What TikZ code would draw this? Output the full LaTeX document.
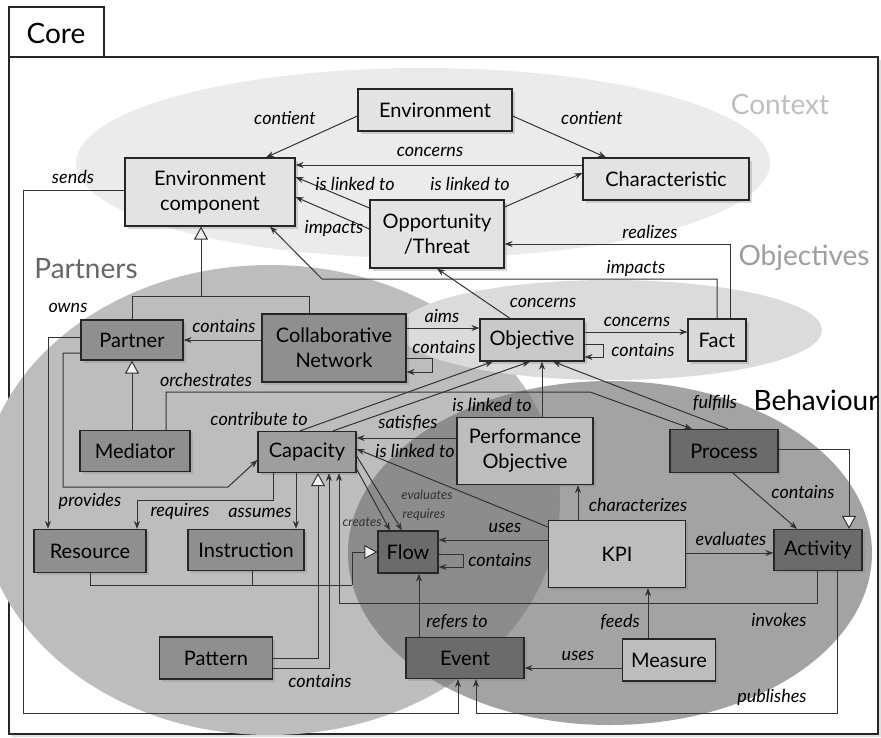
\documentclass[tikz,border=0pt]{standalone}
\usepackage{fontspec}
\setmainfont{Lato}
\usetikzlibrary{arrows.meta}
\usetikzlibrary{shadows}
\usetikzlibrary{calc}

\begin{document}
\begin{tikzpicture}[x=1pt, y=-1pt,
        box/.style={draw=black!85, line width=1.2pt, align=center, inner sep=2pt,
            font=\fontsize{20}{25}\selectfont, drop shadow={opacity=.3}},
        pale/.style={box, fill=black!11},
        soft/.style={box, fill=black!26},
        mid/.style={box, fill=black!44},
        deep/.style={box, fill=black!58},
        lbl/.style={font=\itshape\fontsize{18}{20}\selectfont, inner sep=0pt},
        tinylbl/.style={font=\itshape\fontsize{13}{14}\selectfont, inner sep=0pt, text=black!80},
        zone/.style={font=\fontsize{28}{30}\selectfont, inner sep=0pt},
        arr/.style={draw=black!80, line width=1pt, -{Stealth[length=8pt,width=6pt]}},
        gen/.style={draw=black!80, line width=1pt, -{Triangle[length=13pt,width=14pt,fill=black!6]}},
        ln/.style={draw=black!80, line width=1pt}]

            \useasboundingbox (0,0) rectangle (881,737);

            \draw[fill=white, line width=1.4pt, draw=black!85, drop shadow={opacity=.25}] (9,57) rectangle (878,734);
            \draw[fill=white, line width=1.4pt, draw=black!85] (9,7) rectangle (104,57);
            \node[zone] (core) at (56,33) {Core};

            \fill[black!8] (423,163) ellipse [x radius=347pt, y radius=95pt];
            \fill[black!26] (270,500) ellipse [x radius=290pt, y radius=235pt];
            \fill[black!14] (610,330) ellipse [x radius=212pt, y radius=50pt];
            \fill[black!36] (610,553) ellipse [x radius=262pt, y radius=172pt];
            \begin{scope}
                \clip (270,500) ellipse [x radius=290pt, y radius=235pt];
                \fill[black!45] (610,553) ellipse [x radius=262pt, y radius=172pt];
            \end{scope}

            \node[zone, text=black!25] (context) at (780,104) {Context};
            \node[zone, text=black!38] (objectives) at (804,258) {Objectives};
            \node[zone, text=black!60] (partners) at (86,269) {Partners};
            \node[zone, text=black] (behaviour) at (816,400) {Behaviour};

            \node[pale, minimum width=154pt, minimum height=42pt] (env) at (435,110) {Environment};
            \node[pale, minimum width=170pt, minimum height=68pt] (envc) at (210,192) {Environment\\component};
            \node[pale, minimum width=166pt, minimum height=42pt] (char) at (666,179) {Characteristic};
            \node[pale, minimum width=134pt, minimum height=68pt] (opp) at (437,234) {Opportunity\\/Threat};
            \node[box, fill=black!21, minimum width=104pt, minimum height=42pt] (obj) at (532,340) {Objective};
            \node[box, fill=black!15, minimum width=58pt, minimum height=42pt] (fact) at (717,340) {Fact};
            \node[mid, minimum width=102pt, minimum height=40pt] (partner) at (132,340) {Partner};
            \node[mid, minimum width=144pt, minimum height=68pt] (cnet) at (334,348) {Collaborative\\Network};
            \node[mid, minimum width=110pt, minimum height=41pt] (mediator) at (135,451) {Mediator};
            \node[box, fill=black!38, minimum width=98pt, minimum height=41pt] (capacity) at (307,452) {Capacity};
            \node[soft, minimum width=136pt, minimum height=67pt] (perfobj) at (525,451) {Performance\\Objective};
            \node[deep, minimum width=108pt, minimum height=43pt] (process) at (724,451) {Process};
            \node[mid, minimum width=112pt, minimum height=43pt] (resource) at (90,551) {Resource};
            \node[mid, minimum width=116pt, minimum height=41pt] (instruction) at (246,550) {Instruction};
            \node[deep, minimum width=60pt, minimum height=42pt] (flow) at (408,552) {Flow};
            \node[soft, minimum width=137pt, minimum height=67pt] (kpi) at (617,554) {KPI};
            \node[deep, minimum width=88pt, minimum height=41pt] (activity) at (818,550) {Activity};
            \node[mid, minimum width=113pt, minimum height=42pt] (pattern) at (216,658) {Pattern};
            \node[deep, minimum width=118pt, minimum height=41pt] (event) at (465,658) {Event};
            \node[soft, minimum width=93pt, minimum height=42pt] (measure) at (669,660) {Measure};

            \coordinate (genenv) at (201,296);
            \coordinate (genflow) at (352,585);

            \draw[arr] ([yshift=-6pt]env.west) -- (envc.north -| 266,0);
            \draw[arr] ([yshift=-6pt]env.east) -- (char.north -| 606,0);
            \draw[arr] (char.west |- 0,165) -- (envc.east |- 0,165);
            \draw[arr] (opp.west |- 0,208) -- (envc.east |- 0,177);
            \draw[arr] (opp.east |- 0,207) -- (char.west |- 0,173);
            \draw[arr] (opp.west |- 0,229) -- (envc.east |- 0,197);
            \draw[arr] (fact.north -| 730,0) |- (opp.east |- 0,244);
            \draw[arr] (fact.north -| 717,0) |- (322,279) -- (envc.south -| 270,0);
            \draw[arr] (obj.north -| 510,0) -- (opp.south -| 437,0);
            \draw[arr] (obj.east |- 0,332) -- (fact.west |- 0,332);
            \draw[arr] (obj.east |- 0,344) -| (603,357) -- (obj.east |- 0,357);
            \draw[arr] (cnet.east |- 0,328) -- (obj.west |- 0,328);
            \draw[arr] (cnet.east |- 0,358) -| (432,372) -- (cnet.east |- 0,372);
            \draw[arr] (cnet.west |- 0,340) -- (partner.east |- 0,340);
            \draw[ln] (partner.north) |- (309,296) -- (cnet.north -| 309,0);
            \draw[gen] (genenv) -- (envc.south -| genenv);
            \draw[gen] (mediator.north -| partner.south) -- (partner.south);
            \draw[arr] (mediator.north -| 166,0) |- (590,392) -- (process.north -| 692,0);
            \draw[arr] (capacity.north -| 300,0) -- (obj.south -| 493,0);
            \draw[arr] (capacity.north -| 333,0) -- (obj.south -| 530,0);
            \draw[arr] (perfobj.north -| 542,0) -- (obj.south -| 542,0);
            \draw[arr] (process.north -| 728,0) -- (obj.south -| 553,0);
            \draw[arr] (perfobj.west |- 0,438) -- (capacity.east |- 0,438);
            \draw[arr] (kpi.west |- 0,527) -- (capacity.east |- 0,449);
            \draw[arr] (kpi.north -| 578,0) -- (perfobj.south -| 578,0);
            \draw[arr] (kpi.west |- 0,540) -- (flow.east |- 0,540);
            \draw[arr] (flow.east |- 0,554) -| (463,567) -- (flow.east |- 0,567);
            \draw[arr] (kpi.east |- 0,553) -- (activity.west |- 0,553);
            \draw[arr] (process.south -| 733,0) -- (activity.north -| 797,0);
            \draw[gen] (process.east |- 0,449) -| (activity.north -| 849,0);
            \draw[arr] (activity.south -| 817,0) |- (339,603) -- (capacity.south -| 339,0);
            \draw[arr] (activity.south -| 837,0) |- (476,713) -- (event.south -| 476,0);
            \draw[arr] (envc.west |- 0,190) -| (23,713) -| (event.south -| 458,0);
            \draw[arr] (measure.west |- 0,668) -- (event.east |- 0,668);
            \draw[arr] (measure.north -| 648,0) -- (kpi.south -| 648,0);
            \draw[arr] (event.north -| 419,0) -- (flow.south -| 419,0);
            \draw[arr] (capacity.east |- 0,469) -- (flow.north -| 390,0);
            \draw[arr] (capacity.east |- 0,456) -- (flow.north -| 402,0);
            \draw[ln] (resource.south) |- (genflow);
            \draw[ln] (instruction.south -| 252,0) -- (genflow -| 252,0);
            \draw[gen] (genflow) |- (flow.west);
            \draw[gen] (pattern.east |- 0,658) -| (capacity.south -| 318,0);
            \draw[arr] (pattern.east |- 0,668) -| (capacity.south -| 329,0);
            \draw[arr] (partner.west |- 0,337) -| (resource.north -| 48,0);
            \draw[arr] (partner.west |- 0,353) -| (63,487) -- (228,487) -- (capacity.west |- 0,460);
            \draw[arr] (capacity.south -| 273,0) |- (137,500) -- (resource.north -| 137,0);
            \draw[arr] (capacity.south -| 296,0) -- (instruction.north -| 296,0);

            \node[lbl] (lcontientA) at (285,118) {contient};
            \node[lbl] (lcontientB) at (592,118) {contient};
            \node[lbl] (lconcernsA) at (430,152) {concerns};
            \node[lbl] (llinkedA) at (355,184) {is linked to};
            \node[lbl] (llinkedB) at (470,184) {is linked to};
            \node[lbl] (limpactsA) at (334,228) {impacts};
            \node[lbl] (lrealizes) at (650,232) {realizes};
            \node[lbl] (limpactsB) at (636,268) {impacts};
            \node[lbl] (lconcernsB) at (543,303) {concerns};
            \node[lbl] (lconcernsC) at (637,322) {concerns};
            \node[lbl] (lcontainsA) at (643,350) {contains};
            \node[lbl] (laims) at (442,316) {aims};
            \node[lbl] (lcontainsB) at (444,347) {contains};
            \node[lbl] (lcontainsC) at (224,326) {contains};
            \node[lbl] (lowns) at (68,308) {owns};
            \node[lbl] (lorchestrates) at (206,380) {orchestrates};
            \node[lbl] (lcontribute) at (259,419) {contribute to};
            \node[lbl] (lsatisfies) at (408,423) {satisfies};
            \node[lbl] (llinkedC) at (492,405) {is linked to};
            \node[lbl] (llinkedD) at (415,451) {is linked to};
            \node[lbl] (lfulfills) at (715,403) {fulfills};
            \node[lbl] (lcharacterizes) at (638,505) {characterizes};
            \node[lbl] (lusesA) at (505,528) {uses};
            \node[lbl] (lcontainsD) at (500,560) {contains};
            \node[lbl] (levaluates) at (731,539) {evaluates};
            \node[lbl] (lcontainsE) at (803,492) {contains};
            \node[lbl] (linvokes) at (779,620) {invokes};
            \node[lbl] (lfeeds) at (620,622) {feeds};
            \node[lbl] (lusesB) at (578,656) {uses};
            \node[lbl] (lpublishes) at (772,697) {publishes};
            \node[lbl] (lrefers) at (457,622) {refers to};
            \node[lbl] (lsends) at (73,177) {sends};
            \node[lbl] (lprovides) at (90,501) {provides};
            \node[lbl] (lrequiresA) at (180,511) {requires};
            \node[lbl] (lassumes) at (260,513) {assumes};
            \node[lbl] (lcontainsF) at (320,681) {contains};
            \node[tinylbl] (lcreates) at (362,522) {creates};
            \node[tinylbl] (levalflow) at (427,495) {evaluates};
            \node[tinylbl] (lrequiresB) at (424,515) {requires};
        \end{tikzpicture}
\end{document}
